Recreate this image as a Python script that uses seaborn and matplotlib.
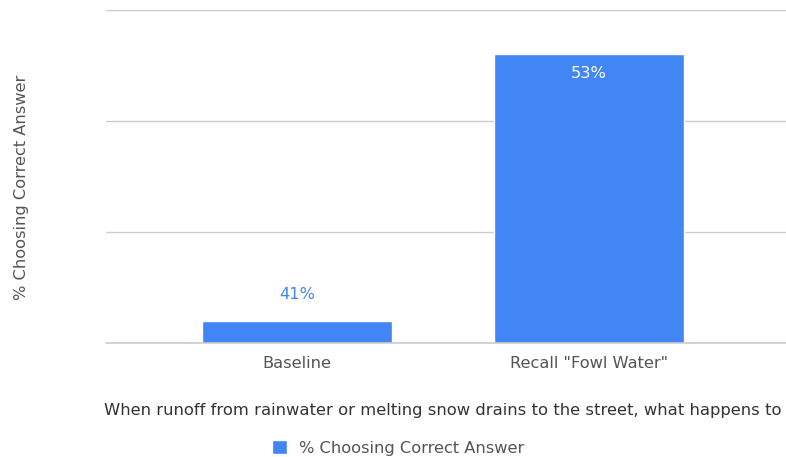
import matplotlib
matplotlib.use("Agg")
import matplotlib.pyplot as plt
import seaborn as sns
import pandas as pd

# data
groups = ["Baseline", 'Recall "Fowl Water"']
pct_correct = [41, 53]
series_name = "% Choosing Correct Answer"
question = "When runoff from rainwater or melting snow drains to the street, what happens to"

bar_color = "#4285F4"
fs = 11.7

sns.set_theme(style="white")
plt.rcParams['font.family'] = ['DejaVu Sans']

df = pd.DataFrame({"group": groups, "pct": pct_correct})

fig = plt.figure(figsize=(7.86, 4.57), dpi=100)
ax = fig.add_axes([106 / 786, 1 - 343 / 457, 1 - 106 / 786, (343 - 10) / 457])

sns.barplot(data=df, x="group", y="pct", color=bar_color, width=0.65,
            saturation=1, label=series_name, ax=ax, zorder=3)

ax.set_ylim(40, 55)
ax.set_xlim(-0.654, 1.675)
ax.set_yticks([40, 45, 50, 55])
ax.set_yticklabels([])
ax.tick_params(axis="y", length=0)
ax.tick_params(axis="x", length=0, labelsize=fs, colors="#555555", pad=9.5)
ax.grid(axis="y", color="#cccccc", linewidth=1, zorder=0)
ax.axhline(40, color="#cccccc", linewidth=1.2, zorder=4, clip_on=False)
for s in ax.spines.values():
    s.set_visible(False)
ax.set_xlabel("")
ax.set_ylabel("")

# value labels
for i, v in enumerate(pct_correct):
    if i == 0:
        ax.annotate(f"{v}%", (i, v), xytext=(0, 19), textcoords="offset points",
                    ha="center", va="center", color=bar_color, fontsize=fs)
    else:
        ax.annotate(f"{v}%", (i, v), xytext=(0, -14), textcoords="offset points",
                    ha="center", va="center", color="white", fontsize=fs)

fig.text(22 / 786, 1 - 187 / 457, series_name, rotation=90, ha="center", va="center",
         fontsize=fs, color="#555555")
fig.text(104 / 786, 1 - 411 / 457, question, ha="left", va="center",
         fontsize=11.75, color="#333333")

if ax.legend_:
    ax.legend_.remove()
handles, labels = ax.get_legend_handles_labels()
fig.legend(handles[:1], labels[:1], loc="center", bbox_to_anchor=(398 / 786, 1 - 448 / 457),
           frameon=False, fontsize=fs, handlelength=0.95, handleheight=0.95,
           handletextpad=0.7, labelcolor="#555555")

fig.savefig("out.png", dpi=100)
